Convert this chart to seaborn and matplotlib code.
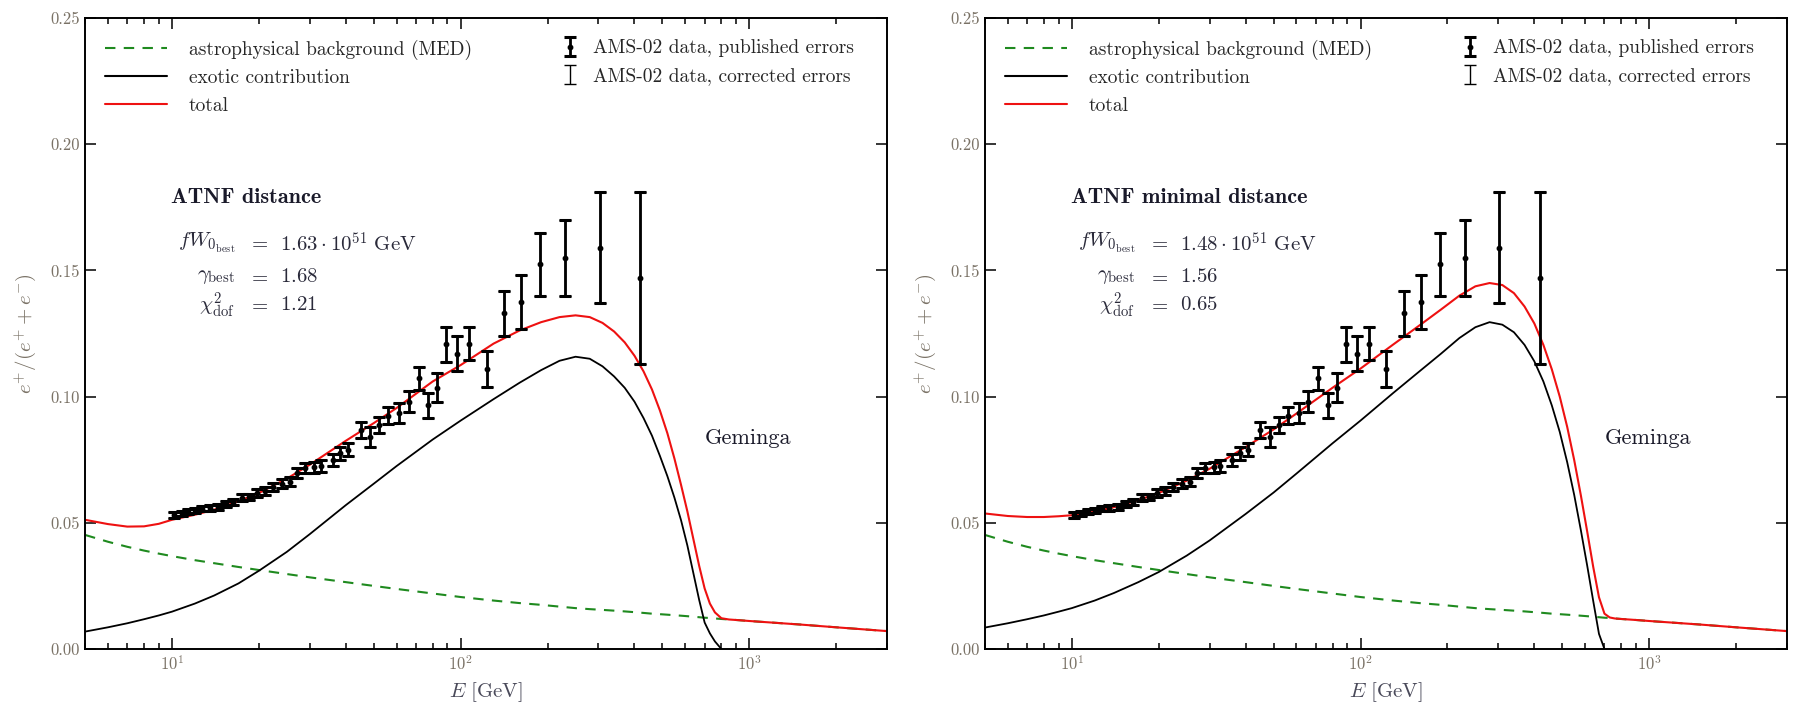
import numpy as np
import pandas as pd
import matplotlib
matplotlib.use("Agg")
import matplotlib.pyplot as plt
import seaborn as sns
from matplotlib.ticker import LogLocator, FormatStrFormatter, MultipleLocator, NullFormatter
from matplotlib.lines import Line2D

# ---------------------------------------------------------------- data
# AMS-02 positron fraction
E_data = [10.2, 10.8, 11.4, 12.0, 12.7, 13.5, 14.4, 15.4, 16.3, 17.5, 18.5, 19.7,
          21.0, 22.4, 24.1, 25.7, 27.2, 29.0, 31.0, 32.7, 36.0, 38.3, 40.8, 45.0,
          48.7, 52.0, 56.0, 61.0, 66.0, 71.5, 77.0, 83.0, 89.0, 97.0, 107.0, 123.0,
          141.0, 162.0, 189.0, 230.0, 303.0, 419.0]
frac_data = [0.0531, 0.0538, 0.0543, 0.0550, 0.0556, 0.0558, 0.0563, 0.0574, 0.0583,
             0.0600, 0.0603, 0.0618, 0.0625, 0.0643, 0.0655, 0.0662, 0.0697, 0.0718,
             0.0720, 0.0725, 0.0749, 0.0775, 0.0790, 0.0868, 0.0840, 0.0888, 0.0925,
             0.0935, 0.0980, 0.1073, 0.0965, 0.1035, 0.1207, 0.1170, 0.1210, 0.1110,
             0.1330, 0.1375, 0.1525, 0.1550, 0.1590, 0.1470]
err_published = [0.0010, 0.0010, 0.0010, 0.0010, 0.0010, 0.0011, 0.0011, 0.0012, 0.0012,
                 0.0013, 0.0013, 0.0014, 0.0015, 0.0016, 0.0017, 0.0018, 0.0019, 0.0020,
                 0.0021, 0.0022, 0.0024, 0.0025, 0.0026, 0.0030, 0.0040, 0.0033, 0.0035,
                 0.0038, 0.0042, 0.0046, 0.0050, 0.0058, 0.0068, 0.0070, 0.0065, 0.0072,
                 0.0090, 0.0107, 0.0125, 0.0150, 0.0220, 0.0340]
err_corrected = err_published

# model curves
E_curve = [5, 6, 7, 8, 9, 10, 12, 14, 17, 20, 25, 30, 40, 50, 60, 80, 100, 130, 160,
           190, 220, 250, 280, 310, 340, 370, 400, 430, 460, 490, 520, 550, 580, 610,
           640, 670, 700, 730, 760, 800, 850, 900, 1000, 1500, 2000, 3000]
nan = np.nan
background_med = [0.0452, 0.0425, 0.0405, 0.0390, 0.0378, 0.0368, 0.0352, 0.0340, 0.0325,
                  0.0313, 0.0297, 0.0284, 0.0265, 0.0250, 0.0238, 0.0220, 0.0206, 0.0192,
                  0.0182, 0.0175, 0.0168, 0.0162, 0.0158, 0.0155, 0.0152, 0.0149, 0.0146,
                  0.0143, 0.0140, 0.0138, 0.0136, 0.0134, 0.0132, 0.0130, 0.0128, 0.0126,
                  0.0124, 0.0123, 0.0121, 0.0119, 0.0117, 0.0115, 0.0111, 0.0097, 0.0086,
                  0.0071]
exotic_atnf = [0.0069, 0.0086, 0.0102, 0.0118, 0.0133, 0.0148, 0.0180, 0.0212, 0.0260,
               0.0310, 0.0385, 0.0455, 0.0570, 0.0655, 0.0725, 0.0830, 0.0905, 0.0990,
               0.1055, 0.1105, 0.1142, 0.1158, 0.1150, 0.1120, 0.1080, 0.1035, 0.0980,
               0.0915, 0.0845, 0.0765, 0.0685, 0.0600, 0.0510, 0.0410, 0.0300, 0.0195,
               0.0105, 0.0062, 0.0030, 0.0000, nan, nan, nan, nan, nan, nan]
total_atnf = [0.0512, 0.0495, 0.0485, 0.0486, 0.0496, 0.0512, 0.0532, 0.0552, 0.0585,
              0.0618, 0.0675, 0.0730, 0.0825, 0.0895, 0.0955, 0.1060, 0.1125, 0.1210,
              0.1262, 0.1295, 0.1315, 0.1322, 0.1315, 0.1292, 0.1258, 0.1215, 0.1162,
              0.1100, 0.1028, 0.0945, 0.0855, 0.0755, 0.0650, 0.0545, 0.0435, 0.0330,
              0.0240, 0.0180, 0.0145, 0.0122, 0.0117, 0.0115, 0.0111, 0.0097, 0.0086,
              0.0071]
exotic_min = [0.0085, 0.0102, 0.0118, 0.0133, 0.0148, 0.0162, 0.0192, 0.0222, 0.0265,
              0.0305, 0.0370, 0.0430, 0.0535, 0.0620, 0.0695, 0.0815, 0.0905, 0.1015,
              0.1100, 0.1170, 0.1232, 0.1275, 0.1295, 0.1285, 0.1255, 0.1205, 0.1140,
              0.1060, 0.0965, 0.0860, 0.0740, 0.0610, 0.0470, 0.0330, 0.0190, 0.0060,
              0.0000, nan, nan, nan, nan, nan, nan, nan, nan, nan]
total_min = [0.0537, 0.0527, 0.0523, 0.0523, 0.0526, 0.0530, 0.0544, 0.0562, 0.0590,
             0.0618, 0.0667, 0.0714, 0.0800, 0.0870, 0.0933, 0.1035, 0.1111, 0.1207,
             0.1282, 0.1345, 0.1400, 0.1437, 0.1450, 0.1442, 0.1410, 0.1357, 0.1290,
             0.1205, 0.1108, 0.1000, 0.0880, 0.0748, 0.0608, 0.0465, 0.0325, 0.0205,
             0.0140, 0.0125, 0.0121, 0.0119, 0.0117, 0.0115, 0.0111, 0.0097, 0.0086,
             0.0071]

panel_titles = ["ATNF distance", "ATNF minimal distance"]
fW0_best = ["1.63", "1.48"]
gamma_best = ["1.68", "1.56"]
chi2_dof = ["1.21", "0.65"]

# ---------------------------------------------------------------- style
sns.set_theme(style="ticks")
plt.rcParams.update({
    "font.family": "serif",
    "font.serif": ["cmr10"],
    "mathtext.fontset": "cm",
    "axes.formatter.use_mathtext": True,
    "axes.unicode_minus": False,
    "axes.edgecolor": "black",
    "axes.linewidth": 1.4,
    "xtick.color": "black",
    "ytick.color": "black",
})

LABEL_GREY = "#7a7266"
GREEN = "#1f8a1f"
RED = "#ee1111"

fig = plt.figure(figsize=(17.95, 7.09), dpi=100)
axes = [fig.add_axes([0.0474, 0.0846, 0.4468, 0.890]),
        fig.add_axes([0.5487, 0.0846, 0.4468, 0.890])]

curves = pd.DataFrame({"E": E_curve, "bkg": background_med,
                       "exo0": exotic_atnf, "tot0": total_atnf,
                       "exo1": exotic_min, "tot1": total_min})

for i, ax in enumerate(axes):
    ax.set_xscale("log")
    ax.set_xlim(5, 3000)
    ax.set_ylim(0, 0.25)

    sns.lineplot(data=curves, x="E", y="bkg", ax=ax, color=GREEN, lw=1.5,
                 linestyle=(0, (5, 4)), estimator=None, sort=False)
    sns.lineplot(data=curves.dropna(subset=[f"exo{i}"]), x="E", y=f"exo{i}", ax=ax,
                 color="black", lw=1.3, estimator=None, sort=False)
    sns.lineplot(data=curves, x="E", y=f"tot{i}", ax=ax, color=RED, lw=1.5,
                 estimator=None, sort=False)

    corr = ax.errorbar(E_data, frac_data, yerr=err_corrected, fmt="none",
                       ecolor="black", elinewidth=1.0, capsize=4, capthick=1.0, zorder=4)
    pub = ax.errorbar(E_data, frac_data, yerr=err_published, fmt="o", ms=3.2,
                      color="black", ecolor="black", elinewidth=2.0, capsize=4.5,
                      capthick=2.2, zorder=5)

    # ticks
    ax.xaxis.set_major_locator(LogLocator(base=10, numticks=10))
    ax.xaxis.set_minor_locator(LogLocator(base=10, subs=np.arange(2, 10), numticks=20))
    ax.xaxis.set_minor_formatter(NullFormatter())
    ax.yaxis.set_major_locator(MultipleLocator(0.05))
    ax.yaxis.set_major_formatter(FormatStrFormatter("%.2f"))
    ax.tick_params(which="both", direction="in", top=True, right=True,
                   labelsize=12, labelcolor=LABEL_GREY, width=1.1)
    ax.tick_params(which="major", length=8)
    ax.tick_params(which="minor", length=4.5)

    ax.set_xlabel(r"$E\ [\mathrm{GeV}]$", fontsize=15, color="#4a4a5a", labelpad=5)
    ax.set_ylabel(r"$e^{+}/(e^{+}+e^{-})$", fontsize=15, color=LABEL_GREY, labelpad=9)

    # legends
    line_handles = [Line2D([], [], color=GREEN, lw=1.5, linestyle=(0, (5, 4))),
                    Line2D([], [], color="black", lw=1.5),
                    Line2D([], [], color=RED, lw=1.5)]
    leg1 = ax.legend(line_handles,
                     ["astrophysical background (MED)", "exotic contribution", "total"],
                     loc="upper left", bbox_to_anchor=(0.025, 0.966), borderaxespad=0,
                     borderpad=0, frameon=False, fontsize=14, handlelength=3.2,
                     handletextpad=1.1, labelspacing=0.5)
    ax.add_artist(leg1)
    ax.legend([pub, corr],
              ["AMS-02 data, published errors", "AMS-02 data, corrected errors"],
              loc="upper left", bbox_to_anchor=(0.590, 0.966), borderaxespad=0,
              borderpad=0, frameon=False, fontsize=14, handlelength=1.2,
              handletextpad=0.6, labelspacing=0.5)

    # annotations
    ax.text(0.107, 0.715, panel_titles[i], transform=ax.transAxes, fontsize=16,
            family="cmb10", ha="left", va="center", color="#1a1a2a")
    rows = [(r"$fW_{0_{\rm best}}$", rf"${fW0_best[i]}\cdot10^{{51}}\ \mathrm{{GeV}}$", 0.643),
            (r"$\gamma_{\rm best}$", rf"${gamma_best[i]}$", 0.590),
            (r"$\chi^{2}_{\rm dof}$", rf"${chi2_dof[i]}$", 0.545)]
    for lab, val, y in rows:
        ax.text(0.187, y, lab, transform=ax.transAxes, fontsize=15, ha="right",
                va="center", color="#2a2a3a")
        ax.text(0.216, y, r"$=$", transform=ax.transAxes, fontsize=15, ha="center",
                va="center", color="#2a2a3a")
        ax.text(0.243, y, val, transform=ax.transAxes, fontsize=15, ha="left",
                va="center", color="#2a2a3a")
    ax.text(0.773, 0.334, "Geminga", transform=ax.transAxes, fontsize=16,
            ha="left", va="center", color="#1a1a2a")

fig.savefig("out.png", dpi=100)
